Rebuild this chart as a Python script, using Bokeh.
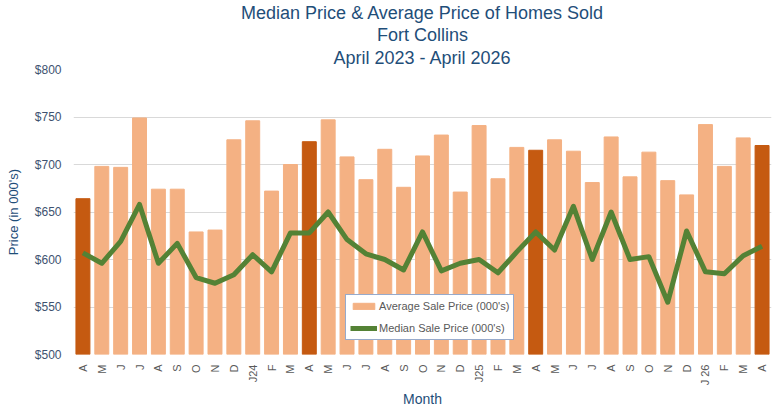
import math
from bokeh.plotting import figure
from bokeh.models import ColumnDataSource, FixedTicker, Legend, LegendItem, Title
from bokeh.embed import file_html
from bokeh.resources import INLINE

months = ["A", "M", "J", "J", "A", "S", "O", "N", "D", "J24", "F", "M",
          "A", "M", "J", "J", "A", "S", "O", "N", "D", "J25", "F", "M",
          "A", "M", "J", "J", "A", "S", "O", "N", "D", "J 26", "F", "M", "A"]
avg_price = [664, 698, 697, 749, 674, 674, 629, 631, 726, 746, 672, 700,
             724, 747, 708, 684, 716, 676, 709, 731, 671, 741, 685, 718,
             715, 726, 714, 681, 729, 687, 713, 683, 668, 742, 698, 728, 720]
median_price = [607, 596, 619, 658, 596, 617, 581, 575, 584, 605, 587, 628,
                628, 650, 621, 606, 600, 589, 629, 588, 596, 600, 586, 608,
                629, 610, 656, 600, 650, 600, 603, 555, 630, 587, 585, 604, 614]
title_lines = ["Median Price & Average Price of Homes Sold", "Fort Collins",
               "April 2023 - April 2026"]

FONT = "Liberation Sans"
BLUE = "#1F4E79"

x = list(range(1, len(months) + 1))
is_april = [(i % 12 == 0) for i in range(len(months))]

light = ColumnDataSource(dict(x=[xi for xi, a in zip(x, is_april) if not a],
                              avg=[v for v, a in zip(avg_price, is_april) if not a]))
dark = ColumnDataSource(dict(x=[xi for xi, a in zip(x, is_april) if a],
                             avg=[v for v, a in zip(avg_price, is_april) if a]))
med = ColumnDataSource(dict(x=x, med=median_price))

p = figure(width=776, height=410, output_backend="svg", toolbar_location=None,
           x_range=(0.5, len(months) + 0.5), y_range=(500, 800),
           min_border_left=73, min_border_right=5, min_border_top=0,
           min_border_bottom=8)
p.title = None

for i, t in enumerate(reversed(title_lines)):
    p.add_layout(Title(text=t, align="center", text_font=FONT, text_font_size="18px",
                       text_font_style="normal", text_color=BLUE,
                       standoff=(3 if i == 0 else 0), offset=0), "above")

bars = p.vbar(x="x", top="avg", bottom=500, width=0.74, color="#F4B183", source=light)
p.vbar(x="x", top="avg", bottom=500, width=0.74, color="#C55A11", source=dark)
line = p.line(x="x", y="med", line_width=5, line_color="#548235",
              line_join="round", source=med)

p.outline_line_color = None
p.xgrid.grid_line_color = None
p.ygrid.grid_line_color = "#D9D9D9"
p.ygrid.grid_line_width = 1

yt = [500, 550, 600, 650, 700, 750, 800]
p.yaxis.ticker = FixedTicker(ticks=yt)
p.yaxis.major_label_overrides = {v: "$%d" % v for v in yt}
p.yaxis.axis_line_color = None
p.yaxis.major_tick_line_color = None
p.yaxis.minor_tick_line_color = None
p.yaxis.major_label_text_font = FONT
p.yaxis.major_label_text_font_size = "12px"
p.yaxis.major_label_text_color = "#3E5270"
p.yaxis.major_label_standoff = 6
p.yaxis.axis_label = "Price (in 000's)"
p.yaxis.axis_label_text_font = FONT
p.yaxis.axis_label_text_font_size = "13px"
p.yaxis.axis_label_text_font_style = "normal"
p.yaxis.axis_label_text_color = BLUE
p.yaxis.axis_label_standoff = 11

p.xaxis.ticker = FixedTicker(ticks=x)
p.xaxis.major_label_overrides = {i: m for i, m in zip(x, months)}
p.xaxis.major_label_orientation = math.pi / 2
p.xaxis.axis_line_color = None
p.xaxis.major_tick_line_color = None
p.xaxis.minor_tick_line_color = None
p.xaxis.major_label_text_font = FONT
p.xaxis.major_label_text_font_size = "11px"
p.xaxis.major_label_text_color = "#595959"
p.xaxis.major_label_standoff = 4
p.xaxis.axis_label = "Month"
p.xaxis.axis_label_text_font = FONT
p.xaxis.axis_label_text_font_size = "14px"
p.xaxis.axis_label_text_font_style = "normal"
p.xaxis.axis_label_text_color = BLUE
p.xaxis.axis_label_standoff = 3

legend = Legend(items=[LegendItem(label="Average Sale Price (000's)", renderers=[bars]),
                       LegendItem(label="Median Sale Price (000's)", renderers=[line])],
                location=(272, 14), orientation="vertical")
legend.label_text_font = FONT
legend.label_text_font_size = "11px"
legend.label_text_color = "#595959"
legend.glyph_width = 27
legend.glyph_height = 8
legend.label_height = 14
legend.label_standoff = 2
legend.spacing = 8
legend.padding = 4
legend.margin = 0
legend.border_line_color = "#2F5597"
legend.border_line_width = 1
legend.background_fill_color = "white"
legend.background_fill_alpha = 1
p.add_layout(legend, "center")

open("out.html", "w").write(file_html(p, INLINE))
